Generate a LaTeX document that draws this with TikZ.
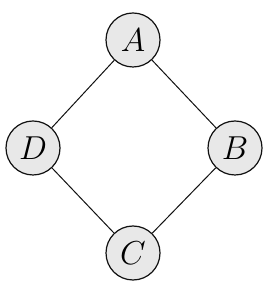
\documentclass[tikz,border=0pt]{standalone}
\usetikzlibrary{positioning}
\definecolor{ink}{RGB}{17,17,17}
\definecolor{vfill}{RGB}{232,232,232}
\tikzset{
  vertex/.style={circle, draw=ink, line width=0.9pt, fill=vfill, minimum size=40.5pt, inner sep=0pt, font=\fontsize{24}{28}\selectfont},
  edge/.style={line width=0.75pt, draw=ink},
}

\begin{document}
\begin{tikzpicture}[x=0.75pt,y=0.75pt]
  \useasboundingbox (0,0) rectangle (270,288);

  % Vertices
  \node[vertex] (a) at (133,248) {$A$};
  \node[vertex] (b) at (235,140) {$B$};
  \node[vertex] (c) at (133,35) {$C$};
  \node[vertex] (d) at (33,140) {$D$};

  % Edges
  \draw[edge] (a) -- (b);
  \draw[edge] (b) -- (c);
  \draw[edge] (c) -- (d);
  \draw[edge] (d) -- (a);
\end{tikzpicture}
\end{document}
